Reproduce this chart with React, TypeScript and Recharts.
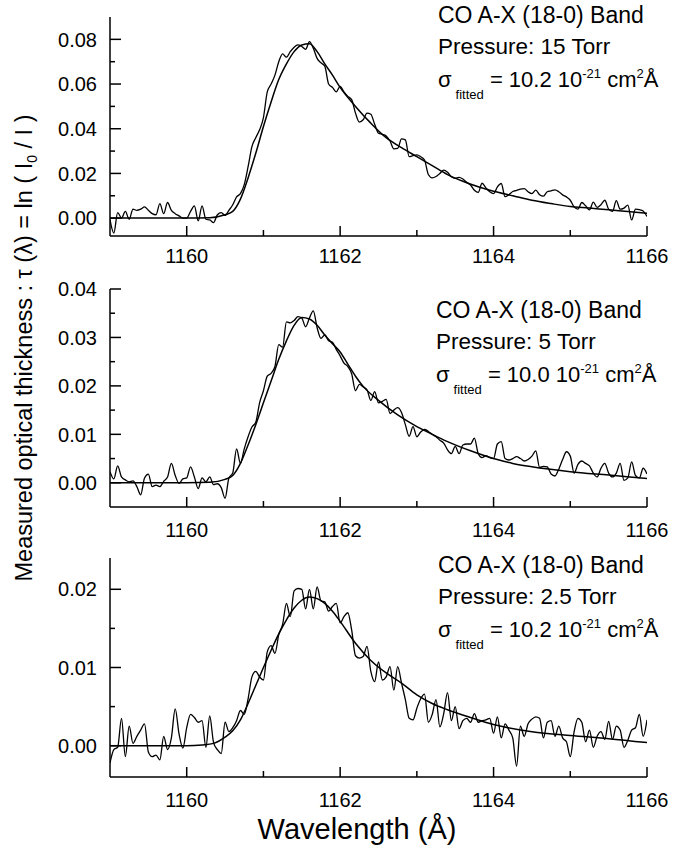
import React from 'react';
import {LineChart, Line, XAxis, YAxis} from 'recharts';

const FONT = '"Liberation Sans", Arial, sans-serif';

// sampling grid of the measured spectra (Å)
const wavelengths = [
    1159.00, 1159.05, 1159.10, 1159.15, 1159.20, 1159.25, 1159.30, 1159.35, 1159.40, 1159.45,
    1159.50, 1159.55, 1159.60, 1159.65, 1159.70, 1159.75, 1159.80, 1159.85, 1159.90, 1159.95,
    1160.00, 1160.05, 1160.10, 1160.15, 1160.20, 1160.25, 1160.30, 1160.35, 1160.40, 1160.45,
    1160.50, 1160.55, 1160.60, 1160.65, 1160.70, 1160.75, 1160.80, 1160.85, 1160.90, 1160.95,
    1161.00, 1161.05, 1161.10, 1161.15, 1161.20, 1161.25, 1161.30, 1161.35, 1161.40, 1161.45,
    1161.50, 1161.55, 1161.60, 1161.65, 1161.70, 1161.75, 1161.80, 1161.85, 1161.90, 1161.95,
    1162.00, 1162.05, 1162.10, 1162.15, 1162.20, 1162.25, 1162.30, 1162.35, 1162.40, 1162.45,
    1162.50, 1162.55, 1162.60, 1162.65, 1162.70, 1162.75, 1162.80, 1162.85, 1162.90, 1162.95,
    1163.00, 1163.05, 1163.10, 1163.15, 1163.20, 1163.25, 1163.30, 1163.35, 1163.40, 1163.45,
    1163.50, 1163.55, 1163.60, 1163.65, 1163.70, 1163.75, 1163.80, 1163.85, 1163.90, 1163.95,
    1164.00, 1164.05, 1164.10, 1164.15, 1164.20, 1164.25, 1164.30, 1164.35, 1164.40, 1164.45,
    1164.50, 1164.55, 1164.60, 1164.65, 1164.70, 1164.75, 1164.80, 1164.85, 1164.90, 1164.95,
    1165.00, 1165.05, 1165.10, 1165.15, 1165.20, 1165.25, 1165.30, 1165.35, 1165.40, 1165.45,
    1165.50, 1165.55, 1165.60, 1165.65, 1165.70, 1165.75, 1165.80, 1165.85, 1165.90, 1165.95,
    1166.00,
];

// measured tau, 15 Torr
const measured15 = [
    -0.0007, -0.0067, 0.0025, 0.0000, 0.0030, -0.0005, 0.0040, 0.0035, 0.0040, 0.0050,
    0.0035, 0.0020, 0.0015, 0.0065, 0.0020, 0.0070, 0.0035, 0.0020, 0.0010, 0.0000,
    0.0000, 0.0030, 0.0055, -0.0012, 0.0055, -0.0005, -0.0008, -0.0020, 0.0015, 0.0025,
    0.0012, 0.0035, 0.0060, 0.0095, 0.0110, 0.0150, 0.0230, 0.0320, 0.0360, 0.0395,
    0.0450, 0.0565, 0.0600, 0.0640, 0.0700, 0.0735, 0.0720, 0.0745, 0.0765, 0.0775,
    0.0768, 0.0755, 0.0790, 0.0760, 0.0715, 0.0695, 0.0680, 0.0600, 0.0585, 0.0565,
    0.0590, 0.0565, 0.0545, 0.0530, 0.0470, 0.0430, 0.0440, 0.0470, 0.0465, 0.0420,
    0.0380, 0.0375, 0.0368, 0.0345, 0.0310, 0.0312, 0.0355, 0.0350, 0.0275, 0.0280,
    0.0283, 0.0275, 0.0260, 0.0195, 0.0180, 0.0186, 0.0200, 0.0215, 0.0205, 0.0185,
    0.0178, 0.0182, 0.0175, 0.0160, 0.0148, 0.0125, 0.0115, 0.0156, 0.0135, 0.0118,
    0.0110, 0.0140, 0.0155, 0.0096, 0.0105, 0.0119, 0.0124, 0.0130, 0.0132, 0.0118,
    0.0110, 0.0125, 0.0105, 0.0098, 0.0118, 0.0122, 0.0126, 0.0118, 0.0104, 0.0095,
    0.0080, 0.0050, 0.0040, 0.0070, 0.0055, 0.0037, 0.0072, 0.0048, 0.0060, 0.0080,
    0.0040, 0.0030, 0.0078, 0.0040, 0.0045, 0.0058, -0.0008, 0.0040, 0.0038, 0.0032,
    0.0007,
];

// measured tau, 5 Torr
const measured5 = [
    0.0023, 0.0008, 0.0035, 0.0012, 0.0006, 0.0002, 0.0004, -0.0008, -0.0025, 0.0010,
    0.0018, -0.0008, -0.0005, -0.0008, 0.0003, 0.0012, 0.0040, 0.0015, -0.0001, 0.0008,
    0.0010, 0.0033, 0.0012, -0.0012, 0.0010, 0.0002, 0.0012, -0.0004, -0.0002, -0.0010,
    -0.0032, 0.0010, 0.0020, 0.0070, 0.0040, 0.0070, 0.0095, 0.0115, 0.0125, 0.0165,
    0.0190, 0.0220, 0.0226, 0.0240, 0.0285, 0.0280, 0.0332, 0.0330, 0.0335, 0.0343,
    0.0340, 0.0322, 0.0340, 0.0355, 0.0320, 0.0298, 0.0305, 0.0293, 0.0290, 0.0275,
    0.0262, 0.0247, 0.0240, 0.0225, 0.0190, 0.0203, 0.0198, 0.0192, 0.0170, 0.0188,
    0.0165, 0.0168, 0.0172, 0.0143, 0.0150, 0.0155, 0.0145, 0.0120, 0.0096, 0.0116,
    0.0095, 0.0105, 0.0110, 0.0106, 0.0100, 0.0095, 0.0088, 0.0082, 0.0068, 0.0060,
    0.0075, 0.0060, 0.0078, 0.0080, 0.0080, 0.0092, 0.0060, 0.0052, 0.0056, 0.0052,
    0.0050, 0.0080, 0.0085, 0.0050, 0.0047, 0.0050, 0.0054, 0.0050, 0.0045, 0.0048,
    0.0055, 0.0066, 0.0032, 0.0034, 0.0033, 0.0018, 0.0014, 0.0028, 0.0048, 0.0064,
    0.0055, 0.0020, 0.0038, 0.0045, 0.0040, 0.0035, 0.0020, 0.0012, 0.0030, 0.0040,
    0.0020, 0.0012, 0.0020, 0.0040, 0.0005, 0.0010, 0.0043, 0.0015, 0.0010, 0.0030,
    0.0018,
];

// measured tau, 2.5 Torr
const measured25 = [
    -0.0022, -0.0005, -0.0002, 0.0035, -0.0014, 0.0025, 0.0003, 0.0012, 0.0020, 0.0028,
    -0.0008, -0.0014, -0.0012, -0.0018, 0.0012, -0.0005, 0.0010, 0.0047, 0.0015, -0.0003,
    0.0023, 0.0040, 0.0036, 0.0030, 0.0032, -0.0002, 0.0038, 0.0004, -0.0005, -0.0010,
    0.0030, 0.0018, 0.0023, 0.0032, 0.0045, 0.0040, 0.0060, 0.0088, 0.0095, 0.0088,
    0.0084, 0.0120, 0.0128, 0.0118, 0.0142, 0.0155, 0.0182, 0.0165, 0.0198, 0.0201,
    0.0200, 0.0175, 0.0200, 0.0175, 0.0203, 0.0185, 0.0184, 0.0172, 0.0178, 0.0182,
    0.0157, 0.0165, 0.0170, 0.0148, 0.0115, 0.0112, 0.0114, 0.0127, 0.0095, 0.0082,
    0.0107, 0.0084, 0.0088, 0.0101, 0.0071, 0.0101, 0.0080, 0.0059, 0.0035, 0.0033,
    0.0048, 0.0060, 0.0066, 0.0030, 0.0040, 0.0059, 0.0024, 0.0041, 0.0068, 0.0032,
    0.0050, 0.0022, 0.0032, 0.0035, 0.0030, 0.0041, 0.0030, 0.0032, 0.0033, 0.0035,
    0.0016, 0.0037, 0.0010, 0.0028, 0.0020, 0.0010, -0.0026, 0.0025, 0.0012, 0.0028,
    0.0034, 0.0037, 0.0035, 0.0010, 0.0030, 0.0032, 0.0012, 0.0025, 0.0010, 0.0005,
    -0.0014, 0.0018, 0.0035, 0.0030, 0.0005, 0.0020, -0.0002, 0.0012, 0.0018, 0.0008,
    0.0031, 0.0008, 0.0025, 0.0020, -0.0002, 0.0007, 0.0020, 0.0023, 0.0040, 0.0012,
    0.0033,
];

// fitted profiles
const fitWl15 = [1159.0, 1160.0, 1160.3, 1160.5, 1160.6, 1160.7, 1160.8, 1160.9, 1161.0, 1161.1,
    1161.2, 1161.3, 1161.4, 1161.5, 1161.6, 1161.7, 1161.8, 1161.9, 1162.0, 1162.2, 1162.4, 1162.6,
    1162.8, 1163.0, 1163.2, 1163.4, 1163.6, 1163.8, 1164.0, 1164.25, 1164.5, 1164.75, 1165.0,
    1165.25, 1165.5, 1165.75, 1166.0];
const fit15 = [0, 0, 0.0002, 0.0015, 0.0030, 0.0085, 0.0180, 0.0290, 0.0410, 0.0520,
    0.0620, 0.0690, 0.0745, 0.0775, 0.0780, 0.0745, 0.0690, 0.0640, 0.0585, 0.0500, 0.0425, 0.0360,
    0.0315, 0.0275, 0.0235, 0.0195, 0.0165, 0.0140, 0.0120, 0.0100, 0.0080, 0.0065, 0.0052,
    0.0045, 0.0037, 0.0030, 0.0022];

const fitWl5 = [1159.0, 1160.0, 1160.3, 1160.5, 1160.6, 1160.7, 1160.8, 1160.9, 1161.0, 1161.1,
    1161.2, 1161.3, 1161.4, 1161.5, 1161.6, 1161.7, 1161.8, 1161.9, 1162.0, 1162.1, 1162.2, 1162.3,
    1162.5, 1162.75, 1163.0, 1163.2, 1163.4, 1163.7, 1164.0, 1164.25, 1164.5, 1165.0, 1165.5, 1166.0];
const fit5 = [0, 0, 0.0001, 0.0007, 0.0015, 0.0040, 0.0078, 0.0120, 0.0165, 0.0210,
    0.0255, 0.0293, 0.0325, 0.0341, 0.0338, 0.0325, 0.0305, 0.0287, 0.0270, 0.0245, 0.0220, 0.0199,
    0.0170, 0.0140, 0.0116, 0.0100, 0.0085, 0.0066, 0.0050, 0.0040, 0.0033, 0.0023, 0.0016, 0.0009];

const fitWl25 = [1159.0, 1160.0, 1160.2, 1160.35, 1160.5, 1160.6, 1160.7, 1160.8, 1160.9, 1161.0,
    1161.1, 1161.2, 1161.3, 1161.4, 1161.5, 1161.6, 1161.7, 1161.8, 1161.9, 1162.0, 1162.2, 1162.4,
    1162.6, 1162.8, 1163.0, 1163.2, 1163.4, 1163.7, 1164.0, 1164.5, 1165.0, 1165.5, 1166.0];
const fit25 = [0, 0, 0.0001, 0.0003, 0.0011, 0.0019, 0.0033, 0.0054, 0.0077, 0.0100,
    0.0122, 0.0143, 0.0161, 0.0176, 0.0186, 0.0190, 0.0188, 0.0182, 0.0172, 0.0159, 0.0131, 0.0109,
    0.0093, 0.0080, 0.0065, 0.0054, 0.0046, 0.0036, 0.0027, 0.0018, 0.0013, 0.0009, 0.0004];

// axes
const xTicks = [1160, 1161, 1162, 1163, 1164, 1165, 1166];
const xLabels = [1160, 1162, 1164, 1166];
const yTicks15 = [0, 0.01, 0.02, 0.03, 0.04, 0.05, 0.06, 0.07, 0.08];
const yLabels15 = [0, 0.02, 0.04, 0.06, 0.08];
const yTicks5 = [0, 0.005, 0.01, 0.015, 0.02, 0.025, 0.03, 0.035, 0.04];
const yLabels5 = [0, 0.01, 0.02, 0.03, 0.04];
const yTicks25 = [0, 0.005, 0.01, 0.015, 0.02];
const yLabels25 = [0, 0.01, 0.02];

const pressures = ['15', '5', '2.5'];
const sigmas = ['10.2', '10.0', '10.2'];

const toRows = (xs: number[], ys: number[]) => xs.map((wl, i) => ({wl, tau: ys[i]}));

const makeYTick = (labels: number[]) => (props: any) => {
    const {x, y, payload} = props;
    const major = labels.some(v => Math.abs(v - payload.value) < 1e-9);
    return (
        <g>
            <line x1={x} x2={x + (major ? 11 : 5)} y1={y} y2={y} stroke="#000" strokeWidth={1.5}/>
            {major && (
                <text x={x - 13} y={y} dy="0.36em" textAnchor="end" fontSize={20} fontFamily={FONT} fill="#000">
                    {payload.value.toFixed(2)}
                </text>
            )}
        </g>
    );
};

const makeXTick = (labelOffset: number) => (props: any) => {
    const {x, y, payload} = props;
    const major = xLabels.includes(payload.value);
    return (
        <g>
            <line x1={x} x2={x} y1={y} y2={y - (major ? 10 : 6)} stroke="#000" strokeWidth={1.5}/>
            {major && (
                <text x={x} y={y + labelOffset} textAnchor="middle" fontSize={20} fontFamily={FONT} fill="#000">
                    {payload.value}
                </text>
            )}
        </g>
    );
};

type PanelProps = {
    top: number, marginTop: number, plotHeight: number, labelOffset: number,
    measured: number[], fitWl: number[], fit: number[],
    domain: [number, number], ticks: number[], labels: number[],
};

const Panel = (props: PanelProps) => {
    const {top, marginTop, plotHeight, labelOffset, measured, fitWl, fit, domain, ticks, labels} = props;
    return (
        <div style={{position: 'absolute', left: 0, top}}>
            <LineChart width={673} height={marginTop + plotHeight + 40}
                       margin={{top: marginTop, right: 26, bottom: 0, left: 50}}>
                <XAxis dataKey="wl" type="number" domain={[1159, 1166]} ticks={xTicks} interval={0}
                       allowDataOverflow height={40} tickSize={0} tickMargin={0} tickLine={false}
                       axisLine={{stroke: '#000', strokeWidth: 1.5}} tick={makeXTick(labelOffset)}/>
                <YAxis type="number" domain={domain} ticks={ticks} interval={0} allowDataOverflow
                       width={60} tickSize={0} tickMargin={0} tickLine={false}
                       axisLine={{stroke: '#000', strokeWidth: 1.5}} tick={makeYTick(labels)}/>
                <Line data={toRows(fitWl, fit)} dataKey="tau" type="monotone" stroke="#000"
                      strokeWidth={1.5} dot={false} isAnimationActive={false}/>
                <Line data={toRows(wavelengths, measured)} dataKey="tau" type="monotone" stroke="#000"
                      strokeWidth={1.3} dot={false} isAnimationActive={false}/>
            </LineChart>
        </div>
    );
};

const Annotation = (props: { x: number, y: number, i: number }) => {
    const {x, y, i} = props;
    return (
        <g fontFamily={FONT} fill="#000">
            <text x={x} y={y} fontSize={23}>CO A-X (18-0) Band</text>
            <text x={x} y={y + 31} fontSize={22.5}>Pressure: {pressures[i]} Torr</text>
            <text x={x} y={y + 64} fontSize={22}>
                σ<tspan fontSize={13} dx={4} dy={12}>fitted</tspan>
                <tspan dy={-12}> = {sigmas[i]} 10</tspan>
                <tspan fontSize={13} dy={-9}>-21</tspan>
                <tspan dy={9}> cm</tspan>
                <tspan fontSize={13} dy={-9}>2</tspan>
                <tspan dy={9}>Å</tspan>
            </text>
        </g>
    );
};

const App = () => {
    return (
        <div style={{position: 'absolute', left: 0, top: 0, width: 673, height: 860, background: '#fff'}}>
            <Panel top={0} marginTop={17} plotHeight={219} labelOffset={27}
                   measured={measured15} fitWl={fitWl15} fit={fit15}
                   domain={[-0.008, 0.09]} ticks={yTicks15} labels={yLabels15}/>
            <Panel top={279} marginTop={10} plotHeight={218} labelOffset={30}
                   measured={measured5} fitWl={fitWl5} fit={fit5}
                   domain={[-0.005, 0.04]} ticks={yTicks5} labels={yLabels5}/>
            <Panel top={548} marginTop={10} plotHeight={219} labelOffset={30}
                   measured={measured25} fitWl={fitWl25} fit={fit25}
                   domain={[-0.004, 0.024]} ticks={yTicks25} labels={yLabels25}/>
            <svg width={673} height={860} style={{position: 'absolute', left: 0, top: 0, pointerEvents: 'none'}}>
                <Annotation x={438} y={23} i={0}/>
                <Annotation x={436} y={318} i={1}/>
                <Annotation x={438} y={573} i={2}/>
                <text transform="rotate(-90)" x={-348} y={32} textAnchor="middle" fontSize={23.5}
                      fontFamily={FONT} fill="#000">
                    Measured optical thickness : τ (λ) = ln ( I<tspan fontSize={14} dy={5}>0</tspan>
                    <tspan dy={-5}> / I )</tspan>
                </text>
                <text x={357} y={839} textAnchor="middle" fontSize={29} fontFamily={FONT} fill="#000">
                    Wavelength (Å)
                </text>
            </svg>
        </div>
    );
};

export default App;
